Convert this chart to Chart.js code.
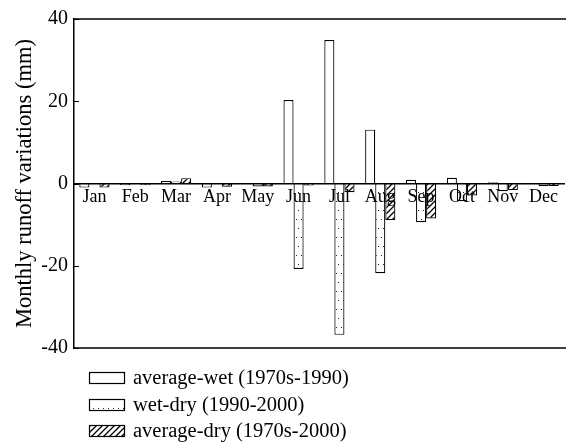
<!DOCTYPE html>
<html>
<head>
<meta charset="utf-8">
<script src="https://cdn.jsdelivr.net/npm/chart.js@4/dist/chart.umd.min.js"></script>
<style>
html,body{margin:0;padding:0;background:#fff;}
#wrap{width:566px;height:448px;position:relative;}
</style>
</head>
<body>
<div id="wrap"><canvas id="c" width="566" height="448"></canvas></div>
<script>
const months = ['Jan','Feb','Mar','Apr','May','Jun','Jul','Aug','Sep','Oct','Nov','Dec'];
const seriesLabels = ['average-wet (1970s-1990)','wet-dry (1990-2000)','average-dry (1970s-2000)'];
const avgWet = [-1.0, -0.4, 0.6, -1.0, 0.0, 20.3, 34.9, 13.1, 0.9, 1.4, 0.3, 0.2];
const wetDry = [-0.1, -0.1, 0.5, 0.0, -0.7, -20.8, -36.8, -21.8, -9.4, -4.3, -1.9, -0.6];
const avgDry = [-1.0, -0.4, 1.3, -0.8, -0.7, -0.5, -2.1, -8.9, -8.5, -2.9, -1.6, -0.6];
const yTicks = [-40, -20, 0, 20, 40];

const FONT = '"Liberation Serif", "Times New Roman", serif';

function dotPattern(){
  const c = document.createElement('canvas'); c.width = 5; c.height = 18;
  const g = c.getContext('2d');
  g.fillStyle = '#fff'; g.fillRect(0,0,5,18);
  g.fillStyle = '#222';
  g.fillRect(1,3,1,1);
  g.fillRect(3,12,1,1);
  return g.createPattern(c,'repeat');
}
function hatchPattern(){
  const c = document.createElement('canvas'); c.width = 6; c.height = 6;
  const g = c.getContext('2d');
  g.fillStyle = '#fff'; g.fillRect(0,0,6,6);
  g.strokeStyle = '#000'; g.lineWidth = 1.3;
  g.beginPath();
  g.moveTo(-1,7); g.lineTo(7,-1);
  g.moveTo(-4,4); g.lineTo(4,-4);
  g.moveTo(2,10); g.lineTo(10,2);
  g.stroke();
  return g.createPattern(c,'repeat');
}

const fills = ['#ffffff', dotPattern(), hatchPattern()];
const values = [avgWet, wetDry, avgDry];

const framePlugin = {
  id: 'frame',
  afterDraw(chart){
    const {ctx, chartArea} = chart;
    const y = chart.scales.y;
    ctx.save();
    ctx.strokeStyle = '#000';
    ctx.lineWidth = 1.5;
    ctx.beginPath();
    ctx.moveTo(chartArea.left, chartArea.top); ctx.lineTo(chart.width, chartArea.top);
    ctx.moveTo(chartArea.left, chartArea.bottom); ctx.lineTo(chart.width, chartArea.bottom);
    ctx.stroke();
    // inward tick marks
    ctx.lineWidth = 1.2;
    ctx.beginPath();
    y.ticks.forEach(t => {
      const py = Math.round(y.getPixelForValue(t.value)) + 0.5;
      ctx.moveTo(chartArea.left, py); ctx.lineTo(chartArea.left + 5, py);
    });
    ctx.stroke();
    // legend
    ctx.font = '20.5px ' + FONT;
    ctx.textBaseline = 'middle';
    ctx.fillStyle = '#000';
    const rows = [378, 405, 431];
    chart.data.datasets.forEach((ds, i) => {
      const ry = rows[i];
      ctx.fillStyle = ds.backgroundColor;
      ctx.fillRect(89, ry - 6, 36, 12);
      ctx.strokeStyle = '#000'; ctx.lineWidth = 1.2;
      ctx.strokeRect(89.5, ry - 5.5, 35, 11);
      ctx.fillStyle = '#000';
      ctx.fillText(ds.label, 133, ry + 1);
    });
    ctx.restore();
  }
};

new Chart(document.getElementById('c'), {
  type: 'bar',
  data: {
    labels: months,
    datasets: seriesLabels.map((lab, i) => ({
      label: lab,
      data: values[i],
      backgroundColor: fills[i],
      borderColor: '#000',
      borderWidth: 1.2,
      categoryPercentage: 0.74,
      barPercentage: 1.0
    }))
  },
  options: {
    responsive: false,
    animation: false,
    layout: { padding: { left: 0, right: 2, top: 19, bottom: 100 } },
    plugins: { legend: { display: false }, tooltip: { enabled: false } },
    scales: {
      x: {
        type: 'category',
        position: { y: 0 },
        grid: { display: true, drawOnChartArea: false, drawTicks: false },
        border: { display: true, color: '#000', width: 1.5, z: 1 },
        ticks: { z: 1, color: '#000', font: { family: FONT, size: 18 }, padding: 3, maxRotation: 0, autoSkip: false }
      },
      y: {
        min: -40, max: 40,
        afterBuildTicks: s => { s.ticks = yTicks.map(v => ({ value: v })); },
        afterFit: s => { s.width = 74; },
        grid: { display: true, drawOnChartArea: false, drawTicks: false },
        border: { display: true, color: '#000', width: 1.5 },
        ticks: { color: '#000', font: { family: FONT, size: 20 }, padding: 6 },
        title: { display: true, text: 'Monthly runoff variations (mm)', color: '#000', font: { family: FONT, size: 22.5 }, padding: { top: 12, bottom: 0 } }
      }
    }
  },
  plugins: [framePlugin]
});
</script>
</body>
</html>
